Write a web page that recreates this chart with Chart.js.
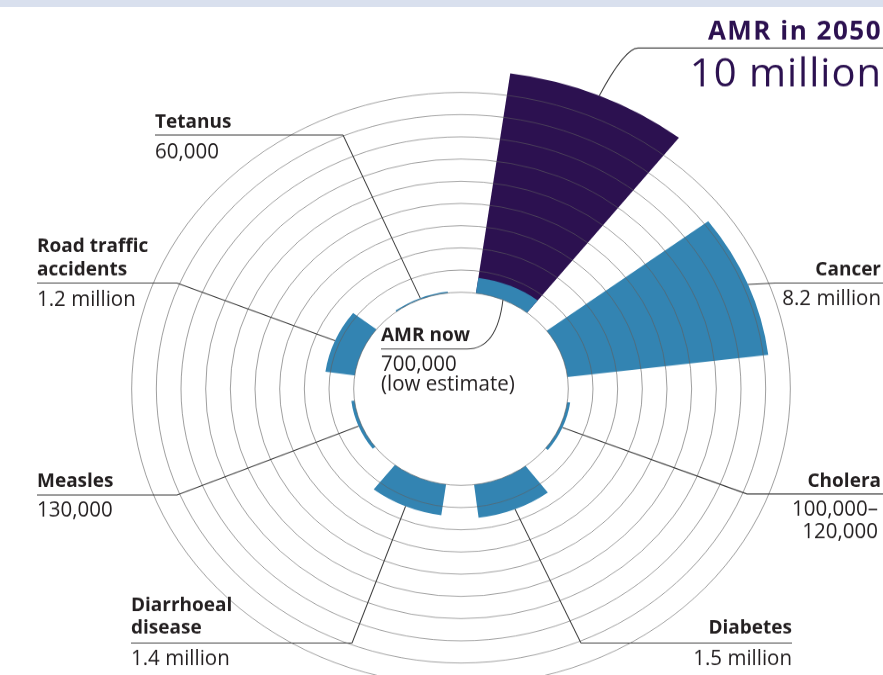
<!DOCTYPE html>
<html>
<head>
<meta charset="utf-8">
<title>Deaths attributable to AMR every year compared with other major causes of death</title>
<script src="https://cdn.jsdelivr.net/npm/chart.js@4.4.1/dist/chart.umd.min.js"></script>
<style>
  html, body { margin: 0; padding: 0; background: #fff; overflow: hidden; }
  body { width: 883px; height: 675px; position: relative; }
  #band { position: absolute; left: 0; top: 0; width: 883px; height: 7px; background: #d9e0ee; }
  #wrap { position: absolute; left: 0; top: 0; width: 883px; height: 800px; transform: scaleY(0.9); transform-origin: 0 0; }
</style>
</head>
<body>
<div id="wrap"><canvas id="deathsChart" width="883" height="800"></canvas></div>
<div id="band"></div>
<script>
// Deaths per year, in millions, clockwise from the top
const causes = ['AMR', 'Cancer', 'Cholera', 'Diabetes', 'Diarrhoeal disease', 'Measles', 'Road traffic accidents', 'Tetanus'];
const deathsNow = [0.7, 8.2, 0.12, 1.5, 1.4, 0.13, 1.2, 0.06];
const deaths2050 = [10, 0, 0, 0, 0, 0, 0, 0];
const causeTitles = [['AMR now'], ['Cancer'], ['Cholera'], ['Diabetes'], ['Diarrhoeal', 'disease'], ['Measles'], ['Road traffic', 'accidents'], ['Tetanus']];
const causeValues = [['700,000', '(low estimate)'], ['8.2 million'], ['100,000–', '120,000'], ['1.5 million'], ['1.4 million'], ['130,000'], ['1.2 million'], ['60,000']];
const futureTitle = 'AMR in 2050';
const futureValue = '10 million';
const ringTicks = [0, 1, 2, 3, 4, 5, 6, 7, 8, 9];

const SQUASH = 0.9;     // the drawing is a little flatter than a circle
const HOLE = 4.35;      // empty middle, in millions
const BAR_ANGLE = 30;
const GAP_ANGLE = 15;
const BLUE = '#3384b2';
const PURPLE = '#2c1150';
const INK = '#231f20';

// every cause gets a bar followed by an empty gap
const slotLabels = [], slotNow = [], slotNowColors = [], slot2050 = [], slot2050Colors = [];
causes.forEach((cause, i) => {
    slotLabels.push(cause, '');
    slotNow.push(deathsNow[i], 0);
    slotNowColors.push(BLUE, 'rgba(0,0,0,0)');
    slot2050.push(deaths2050[i], 0);
    slot2050Colors.push(deaths2050[i] ? PURPLE : 'rgba(0,0,0,0)', 'rgba(0,0,0,0)');
});
const slotAngle = ctx => (ctx.dataIndex % 2 ? GAP_ANGLE : BAR_ANGLE);

// text and leader lines, in page pixels
const notes = [
    { align: 'left', x: 381, titleY: [341], valueY: [371, 391], rule: [381, 467, 349], curve: [497, 349], atHole: true },
    { align: 'right', x: 881, titleY: [275], valueY: [305], rule: [775, 883, 283] },
    { align: 'right', x: 881, titleY: [487], valueY: [516, 538], rule: [747, 883, 494], valueX: 878 },
    { align: 'right', x: 792, titleY: [634], valueY: [665], rule: [581, 792, 643], from: 'left' },
    { align: 'left', x: 131, titleY: [611, 634], valueY: [665], rule: [131, 352, 643] },
    { align: 'left', x: 37, titleY: [487], valueY: [517], rule: [37, 177, 495] },
    { align: 'left', x: 37, titleY: [252, 275], valueY: [306], rule: [37, 177, 283] },
    { align: 'left', x: 155, titleY: [128], valueY: [158], rule: [155, 343, 135] }
];

const holePlugin = {
    id: 'hole',
    afterDatasetsDraw(chart) {
        const r = chart.scales.r;
        const ctx = chart.ctx;
        ctx.save();
        ctx.beginPath();
        ctx.arc(r.xCenter, r.yCenter, r.getDistanceFromCenterForValue(0), 0, Math.PI * 2);
        ctx.fillStyle = '#fff';
        ctx.fill();
        ctx.restore();
    }
};

const notesPlugin = {
    id: 'notes',
    afterDraw(chart) {
        const ctx = chart.ctx;
        const r = chart.scales.r;
        const nowArcs = chart.getDatasetMeta(0).data;
        const laterArcs = chart.getDatasetMeta(1).data;
        // middle of a bar at a given radius, in page pixels
        const pointOn = (arc, radius) => {
            const a = (arc.startAngle + arc.endAngle) / 2;
            return [arc.x + Math.cos(a) * radius, (arc.y + Math.sin(a) * radius) * SQUASH];
        };

        ctx.save();
        ctx.scale(1, 1 / SQUASH);
        ctx.strokeStyle = '#3a3a3a';
        ctx.lineWidth = 1;
        ctx.textBaseline = 'alphabetic';

        notes.forEach((note, i) => {
            const arc = nowArcs[i * 2];
            const [x0, x1, ry] = note.rule;
            const end = note.atHole
                ? pointOn(arc, r.getDistanceFromCenterForValue(0))
                : pointOn(arc, arc.outerRadius);
            const sx = note.from === 'left' ? x0 : (note.align === 'left' ? x1 : x0);

            ctx.beginPath();
            ctx.moveTo(x0, ry);
            ctx.lineTo(x1, ry);
            ctx.moveTo(sx, ry);
            if (note.curve) {
                ctx.quadraticCurveTo(note.curve[0], note.curve[1], end[0], end[1]);
            } else {
                ctx.lineTo(end[0], end[1]);
            }
            ctx.stroke();

            ctx.fillStyle = INK;
            ctx.textAlign = note.align;
            ctx.font = 'bold 19px "Open Sans"';
            causeTitles[i].forEach((line, k) => ctx.fillText(line, note.x, note.titleY[k]));
            ctx.font = '20.5px "Open Sans"';
            causeValues[i].forEach((line, k) => ctx.fillText(line, note.valueX || note.x, note.valueY[k]));
        });

        // AMR in 2050, joined to the top of the purple bar
        const top = pointOn(laterArcs[0], laterArcs[0].outerRadius);
        ctx.beginPath();
        ctx.moveTo(883, 48);
        ctx.lineTo(638, 48);
        ctx.quadraticCurveTo(625, 48, top[0], top[1]);
        ctx.stroke();

        ctx.fillStyle = PURPLE;
        ctx.textAlign = 'right';
        ctx.letterSpacing = '1.5px';
        ctx.font = 'bold 26px "Open Sans"';
        ctx.fillText(futureTitle, 882, 40);
        ctx.letterSpacing = '1px';
        ctx.font = '40px "Open Sans"';
        ctx.fillText(futureValue, 882, 86);
        ctx.letterSpacing = '0px';
        ctx.restore();
    }
};

const ctx = document.getElementById('deathsChart').getContext('2d');
const deathsChart = new Chart(ctx, {
    type: 'polarArea',
    data: {
        labels: slotLabels,
        datasets: [{
            label: 'Deaths per year now',
            data: slotNow,
            backgroundColor: slotNowColors,
            borderWidth: 0,
            angle: slotAngle
        }, {
            label: 'AMR deaths per year in 2050',
            data: slot2050,
            backgroundColor: slot2050Colors,
            borderWidth: 0,
            angle: slotAngle
        }]
    },
    options: {
        responsive: false,
        animation: false,
        devicePixelRatio: 1,
        layout: { padding: { left: 107, right: 67, top: 78, bottom: 13 } },
        plugins: {
            legend: { display: false },
            tooltip: { enabled: false }
        },
        scales: {
            r: {
                min: -HOLE,
                max: 10,
                startAngle: 8,
                ticks: { display: false, stepSize: 1 },
                angleLines: { display: false },
                pointLabels: { display: false },
                grid: {
                    z: 1,
                    lineWidth: 1,
                    color: c => (c.tick && ringTicks.includes(c.tick.value)) ? 'rgba(95,95,95,0.6)' : 'rgba(0,0,0,0)'
                }
            }
        }
    },
    plugins: [holePlugin, notesPlugin]
});
</script>
</body>
</html>
